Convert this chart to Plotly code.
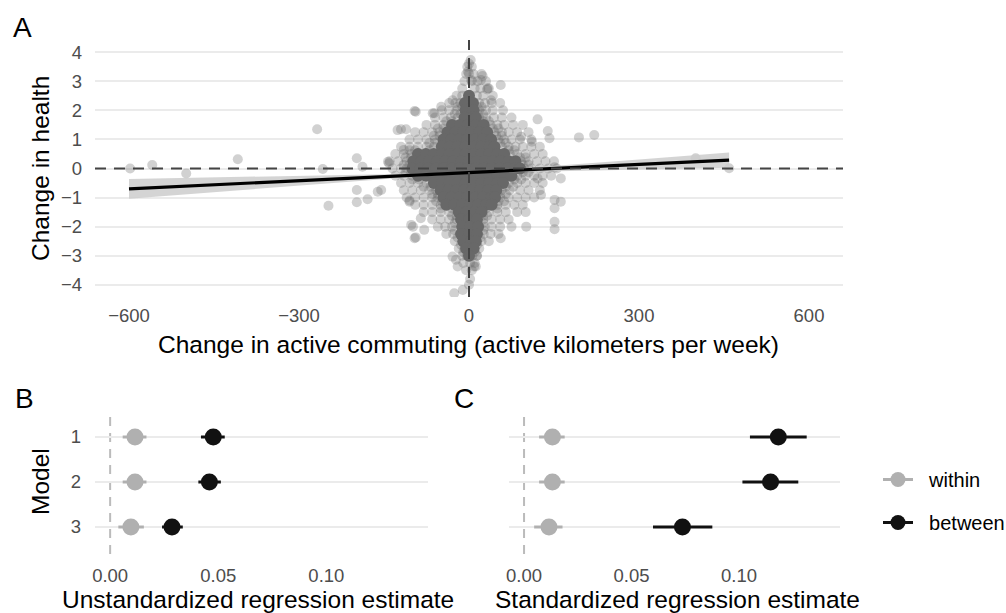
import plotly.graph_objects as go

W, H = 1006, 613
FONT = "Liberation Sans, Arial, sans-serif"

# ---------------- Panel A data ----------------
# sparse / outlying observations (change in km per week, change in health)
outlier_x = [-598, -559, -499, -408, -268, -258, -248, -198, -188, -198, -198, -179, -161,
             -141, -126, -111, -94, -105, -99, -94, -85, -115, -155, -143, -120, -96, -64,
             -61, -49, -29, -26, -11, 0, -29, -20, 9, -23, 12, 14, -2, 4, 21, 33, 39, 3, 0,
             24, 56, 32, 121, 139, 142, 194, 221, 111, 92, 151, 162, 121, 127, 151, 162,
             151, 151, 151, 101, 56, -96, -105, -102, -79, 400, 459, 0, 2]
outlier_y = [0.0, 0.12, -0.17, 0.32, 1.35, -0.02, -1.28, 0.35, 0.06, -0.74, -1.16, -1.06, -0.8,
             0.18, 1.32, 1.35, 1.95, -1.14, -2.0, -2.37, -1.71, 0.64, -0.74, 0.23, 1.35, 1.98, 1.9,
             1.9, 2.12, 2.35, -4.29, -4.18, -4.0, -3.03, -3.37, -3.37, -3.14, -3.37, -3.0, 3.33, 3.04,
             3.04, 2.76, 2.35, 3.73, 3.27, 3.18, 2.87, 2.72, 1.69, 1.29, 1.04, 1.07, 1.15, 0.92,
             1.09, 0.04, -0.34, -0.34, -0.91, -1.08, -1.14, -1.37, -1.83, -2.09, -2.0, -2.4, -2.4,
             -1.1, -1.94, -2.11, 0.35, 0.01, 3.6, -3.8]

# halo of observations around the dense centre, by health-change level
halo_levels = [3.5, 3.25, 3.0, 2.75, 2.5, 2.25, 2.0, 1.75, 1.5, 1.25, 1.0, 0.75, 0.5, 0.25,
               0.0, -0.25, -0.5, -0.75, -1.0, -1.25, -1.5, -1.75, -2.0, -2.25, -2.5, -2.75,
               -3.0, -3.25, -3.5,
               2.125, 1.875, 1.625, 1.375, 1.125, 0.875, 0.625, 0.375, 0.125, -0.125,
               -0.375, -0.625, -0.875, -1.125, -1.375, -1.625, -1.875, -2.125, -2.375,
               -2.625, -2.875]
halo_x = [
    [-3, 5],
    [-5, 8, 22],
    [-8, 5, 15, 30],
    [-12, 10, 20, 35],
    [-22, -12, 14, 25, 42],
    [-35, -24, -15, 18, 28, 40, 55],
    [-48, -35, -22, 18, 30, 42, 60],
    [-60, -45, -32, -20, 18, 30, 44, 58, 75],
    [-75, -60, -45, 38, 50, 62, 78, 95],
    [-95, -80, -65, -52, 45, 58, 70, 85, 105],
    [-105, -90, -75, -60, 52, 62, 75, 90, 110],
    [-120, -105, -90, -75, -62, 58, 70, 82, 95, 110, 125],
    [-130, -115, -102, 72, 85, 100, 115, 130],
    [-140, -125, -110, 92, 105, 120, 135, 150],
    [-135, -120, -110, 98, 110, 125, 140, 155],
    [-130, -115, -100, 85, 100, 115, 130, 145],
    [-120, -105, -90, -75, 70, 85, 100, 115, 130],
    [-115, -100, -85, -70, -58, 58, 72, 90, 105, 125],
    [-110, -95, -80, -65, -55, 55, 70, 85, 100, 115],
    [-95, -80, -65, -50, 50, 65, 80, 95],
    [-80, -65, -50, -35, 35, 50, 65, 85, 100],
    [-65, -50, -35, -22, 25, 40, 55, 70],
    [-55, -42, -30, 28, 40, 55, 75],
    [-40, -28, 26, 38, 52],
    [-25, 22, 35],
    [-18, -8, 10, 18],
    [-12, -4, 6, 14],
    [-10, 2, 10],
    [-5, 5],
    [-20, -12, 14, 22],
    [-25, -15, 15, 25],
    [-40, -30, 25, 35],
    [-55, -45, 42, 52],
    [-62, -52, 48, 58],
    [-70, -60, 55, 65],
    [-105, -95, -70, 70, 80],
    [-112, -102, 90, 100],
    [-115, -105, 95, 105],
    [-112, -102, 95, 105],
    [-100, -88, 80, 92],
    [-80, -68, 65, 78],
    [-65, -55, 55, 65],
    [-58, -48, 52, 62],
    [-50, -30, 30, 50],
    [-30, -22, 25, 32],
    [-25, 25],
    [-25, 25],
    [-20, 20],
    [-14, 14],
    [-10, 10],
]

# dense centre of the cloud (thousands of overlapping observations)
core_levels = [2.5, 2.25, 2.0, 1.75, 1.5, 1.25, 1.0, 0.75, 0.5, 0.25, 0.0, -0.25, -0.5, -0.75,
               -1.0, -1.25, -1.5, -1.75, -2.0, -2.25, -2.5, -2.75, -3.0]
core_x = [
    [0],
    [-7, 7],
    [-6, 8],
    [-8, 6, 12],
    [-30, -16, -2, 12, 26],
    [-38, -24, -10, 4, 18, 32],
    [-45, -31, -17, -3, 11, 25, 39],
    [-48, -34, -20, -6, 8, 22, 36, 45],
    [-90, -76, -62, -48, -34, -20, -6, 8, 22, 36, 50, 62],
    [-98, -84, -70, -56, -42, -28, -14, 0, 14, 28, 42, 56, 70, 82],
    [-100, -86, -72, -58, -44, -30, -16, -2, 12, 26, 40, 54, 68, 82, 90],
    [-90, -76, -62, -48, -34, -20, -6, 8, 22, 36, 50, 64, 75],
    [-62, -48, -34, -20, -6, 8, 22, 36, 50, 60],
    [-50, -36, -22, -8, 6, 20, 34, 48],
    [-45, -31, -17, -3, 11, 25, 39, 46],
    [-40, -26, -12, 2, 16, 30, 40],
    [-18, -4, 10, 22],
    [-14, 0, 14],
    [-12, 2, 16],
    [-14, 0, 14],
    [-10, 4, 12],
    [-5, 8],
    [0],
]

# regression line with confidence band
fit_x = [-600, 459]
fit_y = [-0.70, 0.29]
band_x = [-600, -400, -300, -200, -100, 0, 100, 200, 300, 459]
band_hi = [-0.36, -0.29, -0.25, -0.21, -0.18, -0.12, 0.01, 0.16, 0.31, 0.55]
band_lo = [-1.04, -0.74, -0.59, -0.44, -0.29, -0.16, -0.10, -0.07, -0.03, 0.03]

a_xticks = [-600, -300, 0, 300, 600]
a_xticktext = ["\u2212600", "\u2212300", "0", "300", "600"]
a_yticks = [4, 3, 2, 1, 0, -1, -2, -3, -4]
a_yticktext = ["4", "3", "2", "1", "0", "\u22121", "\u22122", "\u22123", "\u22124"]

# ---------------- Panels B and C data ----------------
models = [1, 2, 3]
model_labels = ["1", "2", "3"]
b_within = [0.0115, 0.0115, 0.0096]
b_within_lo = [0.0058, 0.0058, 0.0038]
b_within_hi = [0.0168, 0.0168, 0.0156]
b_between = [0.0477, 0.0459, 0.0286]
b_between_lo = [0.0420, 0.0408, 0.0240]
b_between_hi = [0.0530, 0.0512, 0.0336]

c_within = [0.0132, 0.0132, 0.0116]
c_within_lo = [0.0070, 0.0070, 0.0047]
c_within_hi = [0.0189, 0.0189, 0.0179]
c_between = [0.1183, 0.1147, 0.0737]
c_between_lo = [0.1051, 0.1016, 0.0600]
c_between_hi = [0.1315, 0.1276, 0.0876]

est_ticks = [0.0, 0.05, 0.10]
est_ticktext = ["0.00", "0.05", "0.10"]

legend_names = ["within", "between"]

# ---------------- styling ----------------
PT_COL = "#666666"
CORE_COL = "#686868"
WITHIN_COL = "#b0b0b0"
BETWEEN_COL = "#111111"
GRID = "#ebebeb"
TICK_COL = "#4d4d4d"
TICK_SIZE = 18.5
TITLE_SIZE = 24.5


def px_x(p):
    return p / W


def px_y(p):
    return 1 - p / H


fig = go.Figure()

# Panel A points
hx, hy = [], []
for lvl, xs in zip(halo_levels, halo_x):
    for v in xs:
        hx.append(v)
        hy.append(lvl)
cx, cy = [], []
for lvl, xs in zip(core_levels, core_x):
    for v in xs:
        cx.append(v)
        cy.append(lvl)

fig.add_trace(go.Scatter(x=outlier_x + hx, y=outlier_y + hy, mode="markers",
                         marker=dict(size=10, color=PT_COL, opacity=0.3, line=dict(width=0)),
                         xaxis="x", yaxis="y", showlegend=False, hoverinfo="skip"))
fig.add_trace(go.Scatter(x=cx, y=cy, mode="markers",
                         marker=dict(size=12, color=CORE_COL, opacity=1, line=dict(width=0)),
                         xaxis="x", yaxis="y", showlegend=False, hoverinfo="skip"))
# confidence band
fig.add_trace(go.Scatter(x=band_x + band_x[::-1], y=band_hi + band_lo[::-1], fill="toself",
                         mode="lines", line=dict(width=0), fillcolor="rgba(205,205,205,0.85)",
                         xaxis="x", yaxis="y", showlegend=False, hoverinfo="skip"))
fig.add_trace(go.Scatter(x=fit_x, y=fit_y, mode="lines", line=dict(color="#000000", width=3.2),
                         xaxis="x", yaxis="y", showlegend=False, hoverinfo="skip"))


def est_traces(xa, ya, w, wlo, whi, b, blo, bhi):
    fig.add_trace(go.Scatter(
        x=w, y=models, mode="markers", name="within",
        marker=dict(size=17, color=WITHIN_COL, line=dict(width=0)),
        error_x=dict(type="data", symmetric=False,
                     array=[h - v for h, v in zip(whi, w)],
                     arrayminus=[v - l for v, l in zip(w, wlo)],
                     color=WITHIN_COL, thickness=3, width=0),
        xaxis=xa, yaxis=ya, showlegend=False, hoverinfo="skip"))
    fig.add_trace(go.Scatter(
        x=b, y=models, mode="markers", name="between",
        marker=dict(size=17, color=BETWEEN_COL, line=dict(width=0)),
        error_x=dict(type="data", symmetric=False,
                     array=[h - v for h, v in zip(bhi, b)],
                     arrayminus=[v - l for v, l in zip(b, blo)],
                     color=BETWEEN_COL, thickness=3, width=0),
        xaxis=xa, yaxis=ya, showlegend=False, hoverinfo="skip"))


est_traces("x2", "y2", b_within, b_within_lo, b_within_hi, b_between, b_between_lo, b_between_hi)
est_traces("x3", "y3", c_within, c_within_lo, c_within_hi, c_between, c_between_lo, c_between_hi)

# legend entries
for nm, col, grp in zip(legend_names, [WITHIN_COL, BETWEEN_COL], ["w", "b"]):
    fig.add_trace(go.Scatter(x=[None], y=[None], mode="lines+markers",
                             name="\u00a0\u00a0" + nm,
                             line=dict(color=col, width=3),
                             marker=dict(size=15, color=col), legendgroup=grp,
                             xaxis="x3", yaxis="y3"))

tickfont = dict(family=FONT, size=TICK_SIZE, color=TICK_COL)

axis_common = dict(showline=False, zeroline=False, ticks="", tickfont=tickfont)

fig.update_layout(
    width=W, height=H,
    margin=dict(l=0, r=0, t=0, b=0, autoexpand=False),
    paper_bgcolor="white", plot_bgcolor="white",
    font=dict(family=FONT, color="#000000"),
    xaxis=dict(domain=[px_x(95), px_x(843)], range=[-660, 660], anchor="y",
               tickvals=a_xticks, ticktext=a_xticktext, showgrid=False,
               ticklabelstandoff=5, **axis_common),
    yaxis=dict(domain=[px_y(297), px_y(40)], range=[-4.42, 4.42], anchor="x",
               tickvals=a_yticks, ticktext=a_yticktext, showgrid=True, gridcolor=GRID,
               gridwidth=1.6, ticklabelstandoff=12, **axis_common),
    xaxis2=dict(domain=[px_x(95), px_x(428)], range=[-0.007, 0.147], anchor="y2",
                tickvals=est_ticks, ticktext=est_ticktext, showgrid=False,
                ticklabelstandoff=8, **axis_common),
    yaxis2=dict(domain=[px_y(554), px_y(410)], range=[3.6, 0.4], anchor="x2",
                tickvals=models, ticktext=model_labels, showgrid=True, gridcolor=GRID,
                gridwidth=1.6, ticklabelstandoff=13, **axis_common),
    xaxis3=dict(domain=[px_x(509), px_x(840)], range=[-0.007, 0.147], anchor="y3",
                tickvals=est_ticks, ticktext=est_ticktext, showgrid=False,
                ticklabelstandoff=8, **axis_common),
    yaxis3=dict(domain=[px_y(554), px_y(410)], range=[3.6, 0.4], anchor="x3",
                tickvals=models, showticklabels=False, showgrid=True, gridcolor=GRID,
                gridwidth=1.6, **axis_common),
    legend=dict(x=px_x(878), y=px_y(460), xanchor="left", yanchor="top",
                font=dict(family=FONT, size=20, color="#000000"),
                bgcolor="rgba(0,0,0,0)", itemwidth=30, tracegroupgap=14),
    showlegend=True,
)

# reference lines (dashed at zero)
shapes = [
    dict(type="line", xref="x domain", yref="y", x0=0, x1=1, y0=0, y1=0,
         line=dict(color="#444444", width=2, dash="11px,8px"), layer="above"),
    dict(type="line", xref="x", yref="y domain", x0=0, x1=0, y0=0, y1=1,
         line=dict(color="#444444", width=2, dash="11px,8px"), layer="above"),
    dict(type="line", xref="x2", yref="y2 domain", x0=0, x1=0, y0=0, y1=1,
         line=dict(color="#bbbbbb", width=2, dash="9px,7px"), layer="below"),
    dict(type="line", xref="x3", yref="y3 domain", x0=0, x1=0, y0=0, y1=1,
         line=dict(color="#bbbbbb", width=2, dash="9px,7px"), layer="below"),
]
fig.update_layout(shapes=shapes)

ann = []


def label(text, x, y, size, angle=0, color="#000000", xanchor="center"):
    ann.append(dict(text=text, x=px_x(x), y=px_y(y), xref="paper", yref="paper",
                    showarrow=False, textangle=angle, xanchor=xanchor, yanchor="middle",
                    font=dict(family=FONT, size=size, color=color)))


label("A", 11, 27, 28, xanchor="left")
label("B", 13, 398, 28, xanchor="left")
label("C", 452, 398, 28, xanchor="left")
label("Change in health", 40, 169, TITLE_SIZE, angle=-90)
label("Change in active commuting (active kilometers per week)", 468, 344, TITLE_SIZE)
label("Model", 40, 482, TITLE_SIZE, angle=-90)
label("Unstandardized regression estimate", 258, 599, TITLE_SIZE)
label("Standardized regression estimate", 677, 599, TITLE_SIZE)
fig.update_layout(annotations=ann)

fig.write_html("out.html", config={"displayModeBar": False},
               post_script="document.body.style.margin='0';document.body.style.overflow='hidden';")
